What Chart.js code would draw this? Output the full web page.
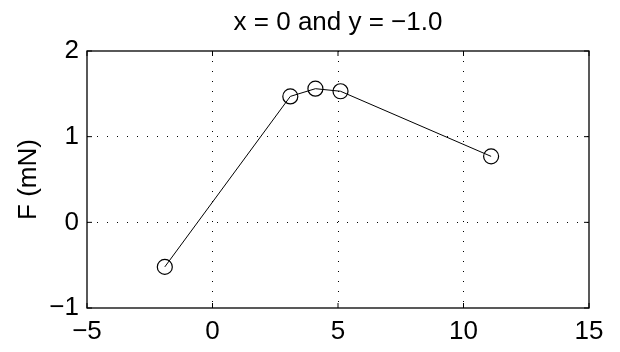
<!DOCTYPE html>
<html>
<head>
<meta charset="utf-8">
<script src="https://cdn.jsdelivr.net/npm/chart.js@4"></script>
<style>
  body { margin: 0; background: #fff; }
  #wrap { width: 620px; height: 352px; }
</style>
</head>
<body>
<div id="wrap"><canvas id="forceChart" width="620" height="352"></canvas></div>
<script>
// values
const xValues = [-1.9, 3.1, 4.1, 5.1, 11.1];
const forceValues = [-0.52, 1.47, 1.56, 1.53, 0.77];
const xTicks = [-5, 0, 5, 10, 15];
const yTicks = [-1, 0, 1, 2];

const points = xValues.map((x, i) => ({ x: x, y: forceValues[i] }));
const minus = (v) => String(v).replace('-', '\u2212');
const font = { family: "'Liberation Sans', Arial, sans-serif", size: 26, weight: 'normal' };

// box around the plot + small inward ticks, matlab style
const boxPlugin = {
  id: 'box',
  afterDraw(chart) {
    const { ctx, chartArea: a, scales } = chart;
    ctx.save();
    ctx.strokeStyle = '#000';
    ctx.lineWidth = 1.3;
    ctx.strokeRect(a.left, a.top, a.right - a.left, a.bottom - a.top);
    ctx.lineWidth = 1;
    ctx.beginPath();
    xTicks.forEach((t) => {
      const px = scales.x.getPixelForValue(t);
      ctx.moveTo(px, a.bottom); ctx.lineTo(px, a.bottom - 5);
      ctx.moveTo(px, a.top); ctx.lineTo(px, a.top + 5);
    });
    yTicks.forEach((t) => {
      const py = scales.y.getPixelForValue(t);
      ctx.moveTo(a.left, py); ctx.lineTo(a.left + 5, py);
      ctx.moveTo(a.right, py); ctx.lineTo(a.right - 5, py);
    });
    ctx.stroke();
    ctx.restore();
  }
};

const gridColor = (c) =>
  (c.tick && (c.index === 0 || c.index === c.chart.scales[c.scale.id].ticks.length - 1)) ? 'rgba(0,0,0,0)' : '#000';

new Chart(document.getElementById('forceChart').getContext('2d'), {
  type: 'scatter',
  data: {
    datasets: [{
      data: points,
      showLine: true,
      borderColor: '#000',
      borderWidth: 1,
      tension: 0,
      pointStyle: 'circle',
      pointRadius: 7.5,
      pointBorderWidth: 1.2,
      pointBorderColor: '#000',
      pointBackgroundColor: 'rgba(0,0,0,0)'
    }]
  },
  options: {
    responsive: false,
    animation: false,
    layout: { padding: { left: 0, right: 31, top: 0, bottom: 0 } },
    plugins: {
      legend: { display: false },
      tooltip: { enabled: false },
      title: {
        display: true,
        fullSize: false,
        text: 'x = 0 and y = \u22121.0',
        color: '#000',
        font: font,
        padding: { top: 7.4, bottom: 12.4 }
      }
    },
    scales: {
      x: {
        type: 'linear',
        min: -5,
        max: 15,
        afterBuildTicks: (s) => { s.ticks = xTicks.map((v) => ({ value: v })); },
        afterFit: (s) => { s.height = 44; },
        ticks: { color: '#000', font: font, padding: 8, callback: minus, maxRotation: 0 },
        grid: { color: gridColor, drawTicks: false, lineWidth: 1 },
        border: { display: false, dash: [1, 9] }
      },
      y: {
        type: 'linear',
        min: -1,
        max: 2,
        afterBuildTicks: (s) => { s.ticks = yTicks.map((v) => ({ value: v })); },
        afterFit: (s) => { s.width = 87; },
        ticks: { color: '#000', font: font, padding: 8, callback: minus },
        grid: { color: gridColor, drawTicks: false, lineWidth: 1 },
        border: { display: false, dash: [1, 9] },
        title: { display: true, text: 'F (mN)', color: '#000', font: font, padding: { top: 13, bottom: 0 } }
      }
    }
  },
  plugins: [boxPlugin]
});
</script>
</body>
</html>
